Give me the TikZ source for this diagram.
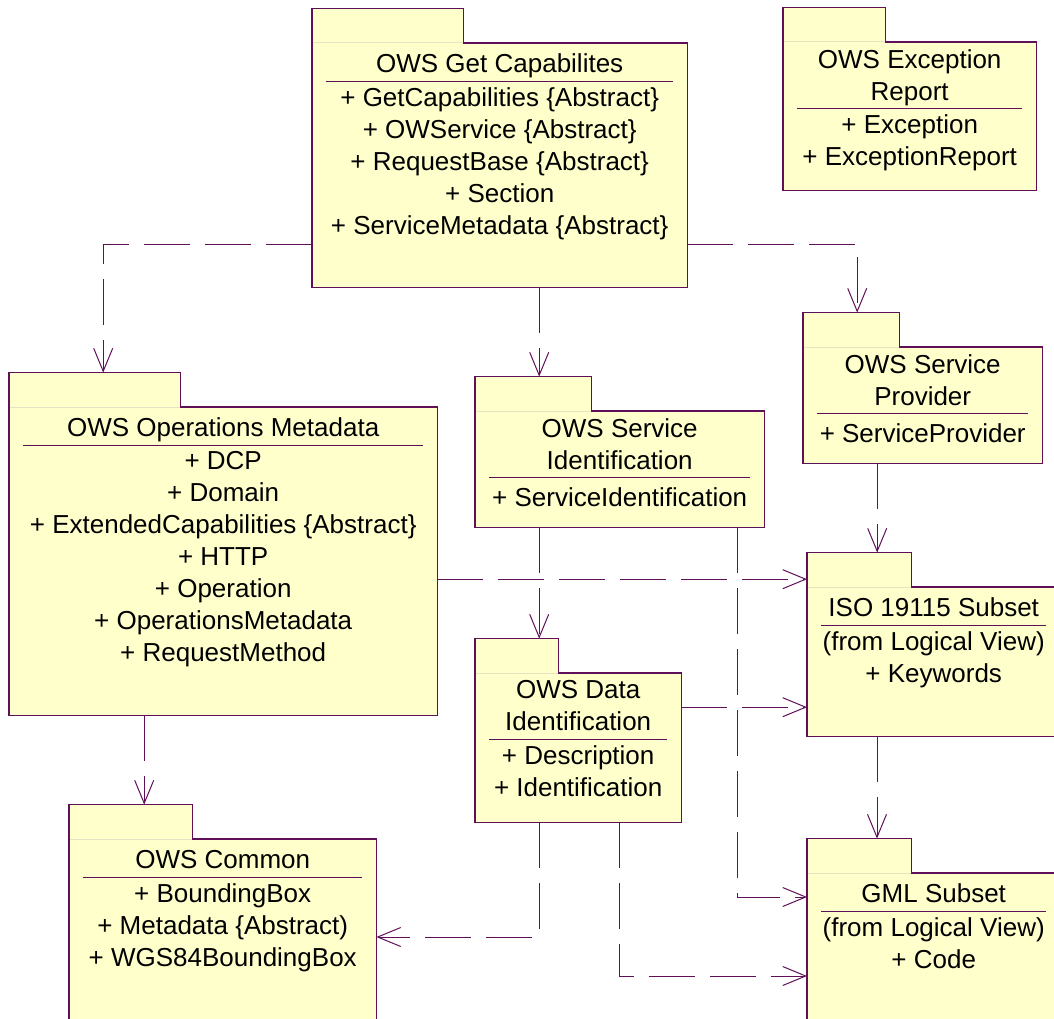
\documentclass[tikz,border=0pt]{standalone}
\usepackage{fontspec}
\setmainfont{Liberation Sans}
\usetikzlibrary{arrows.meta,positioning,calc}
\definecolor{pkgfill}{RGB}{255,255,204}
\definecolor{pkgline}{RGB}{96,16,88}
\definecolor{tabline}{RGB}{228,228,196}

\begin{document}
\begin{tikzpicture}[x=1pt, y=-1pt, node distance=5pt]
    \tikzset{
        body/.style     =   { rectangle
                            , fill=pkgfill
                            , inner sep=0pt
                            , anchor=north west
        }
        , tab/.style    =   { rectangle
                            , fill=pkgfill
                            , inner sep=0pt
                            , minimum height=34pt
                            , anchor=south west
        }
        , txt/.style    =   { align=center
                            , inner sep=0pt
                            , font=\fontsize{26}{32}\selectfont
                            , execute at begin node=\strut
                            , execute at end node=\strut
        }
        , outline/.style =  { draw=pkgline
                            , line width=1.2pt
        }
        , rule/.style   =   { draw=pkgline
                            , line width=1pt
        }
        , dep/.style    =   { draw=pkgline
                            , line width=1pt
                            , dash pattern=on 46pt off 15pt
                            , -{Straight Barb[length=23pt,width=19pt]}
        }
    }
    \useasboundingbox (0,0) rectangle (1054,1019);
    \clip (0,0) rectangle (1054,1019);

    % packages
    \node(gc)[body, minimum width=375pt, minimum height=244pt] at (312,43) {};
    \node(gc-tab)[tab, minimum width=151pt] at (gc.north west) {};
    \node(gc-title)[txt, below=7pt of gc.north] {OWS Get Capabilites};
    \node(gc-items)[txt, below=of gc-title] {+ GetCapabilities \{Abstract\}\\+ OWService \{Abstract\}\\+ RequestBase \{Abstract\}\\+ Section\\+ ServiceMetadata \{Abstract\}};

    \node(er)[body, minimum width=253pt, minimum height=148pt] at (783,42) {};
    \node(er-tab)[tab, minimum width=102pt] at (er.north west) {};
    \node(er-title)[txt, below=7pt of er.north] {OWS Exception\\Report};
    \node(er-items)[txt, below=of er-title] {+ Exception\\+ ExceptionReport};

    \node(om)[body, minimum width=428pt, minimum height=308pt] at (9,407) {};
    \node(om-tab)[tab, minimum width=171pt] at (om.north west) {};
    \node(om-title)[txt, below=7pt of om.north] {OWS Operations Metadata};
    \node(om-items)[txt, below=of om-title] {+ DCP\\+ Domain\\+ ExtendedCapabilities \{Abstract\}\\+ HTTP\\+ Operation\\+ OperationsMetadata\\+ RequestMethod};

    \node(si)[body, minimum width=289pt, minimum height=116pt] at (475,411) {};
    \node(si-tab)[tab, minimum width=116pt] at (si.north west) {};
    \node(si-title)[txt, below=7pt of si.north] {OWS Service\\Identification};
    \node(si-items)[txt, below=of si-title] {+ ServiceIdentification};

    \node(sp)[body, minimum width=239pt, minimum height=116pt] at (803,347) {};
    \node(sp-tab)[tab, minimum width=96pt] at (sp.north west) {};
    \node(sp-title)[txt, below=7pt of sp.north] {OWS Service\\Provider};
    \node(sp-items)[txt, below=of sp-title] {+ ServiceProvider};

    \node(iso)[body, minimum width=253pt, minimum height=149pt] at (807,587) {};
    \node(iso-tab)[tab, minimum width=104pt] at (iso.north west) {};
    \node(iso-title)[txt, below=7pt of iso.north] {ISO 19115 Subset};
    \node(iso-items)[txt, below=of iso-title] {(from Logical View)\\+ Keywords};

    \node(di)[body, minimum width=206pt, minimum height=149pt] at (475,673) {};
    \node(di-tab)[tab, minimum width=83pt] at (di.north west) {};
    \node(di-title)[txt, below=7pt of di.north] {OWS Data\\Identification};
    \node(di-items)[txt, below=of di-title] {+ Description\\+ Identification};

    \node(com)[body, minimum width=307pt, minimum height=191pt] at (69,839) {};
    \node(com-tab)[tab, minimum width=123pt] at (com.north west) {};
    \node(com-title)[txt, below=7pt of com.north] {OWS Common};
    \node(com-items)[txt, below=of com-title] {+ BoundingBox\\+ Metadata \{Abstract)\\+ WGS84BoundingBox};

    \node(gml)[body, minimum width=253pt, minimum height=157pt] at (807,873) {};
    \node(gml-tab)[tab, minimum width=104pt] at (gml.north west) {};
    \node(gml-title)[txt, below=7pt of gml.north] {GML Subset};
    \node(gml-items)[txt, below=of gml-title] {(from Logical View)\\+ Code};

    % outlines and separators
    \foreach \p in {gc,er,om,si,sp,iso,di,com,gml} {
        \draw[tabline, line width=1pt] (\p-tab.south west) -- (\p-tab.south east);
        \draw[outline] (\p-tab.south west) |- (\p-tab.north east) |- (\p.north east) |- (\p.south west) -- cycle;
        \draw[rule] ($(\p.west |- \p-title.south)+(14pt,1pt)$) -- ($(\p.east |- \p-title.south)+(-14pt,1pt)$);
    }

    % dependencies
    \draw[dep] ([yshift=-79pt]gc.west) -| ([xshift=8.5pt]om-tab.north);
    \draw[dep] ([yshift=-79pt]gc.east) -| ([xshift=6pt]sp-tab.north);
    \draw[dep] ([xshift=39.5pt]gc.south) -- ([xshift=39.5pt]gc.south |- si-tab.north);
    \draw[dep] ([xshift=-79pt]om.south) -- ([xshift=-79pt]om.south |- com-tab.north);
    \draw[dep] ([yshift=-18pt]om.east) -- ([yshift=-18pt]om.east -| iso.west);
    \draw[dep] ([xshift=-80.5pt]si.south) -- ([xshift=-80.5pt]si.south |- di-tab.north);
    \draw[dep] ([xshift=117.5pt]si.south) |- ([yshift=-24pt]gml.north west);
    \draw[dep] ([xshift=-45.5pt]sp.south) -- ([xshift=-45.5pt]sp.south |- iso-tab.north);
    \draw[dep] ([xshift=70pt]iso.south west) -- ([xshift=70pt]iso.south west |- gml-tab.north);
    \draw[dep] ([yshift=40.5pt]di.east) -- ([yshift=40.5pt]di.east -| iso.west);
    \draw[dep] ([xshift=-39pt]di.south) |- ([yshift=-98pt]com.north east);
    \draw[dep] ([xshift=41pt]di.south) |- ([yshift=-103pt]gml.north west);
\end{tikzpicture}
\end{document}
